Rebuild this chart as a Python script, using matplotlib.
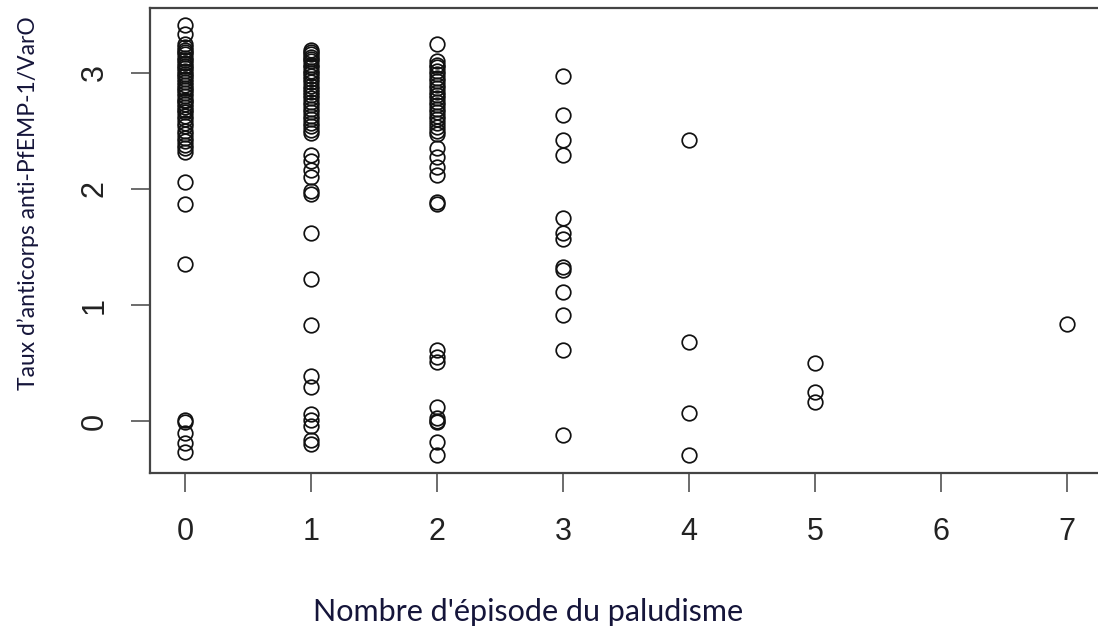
import matplotlib.pyplot as plt

# anticorps rate per number of malaria episodes
episode_0 = [3.41, 3.34, 3.25, 3.22, 3.20, 3.18, 3.16, 3.13, 3.11, 3.09, 3.06, 3.04,
             3.02, 2.99, 2.97, 2.95, 2.92, 2.90, 2.87, 2.85, 2.83, 2.80, 2.77, 2.76,
             2.73, 2.71, 2.68, 2.66, 2.63, 2.60, 2.57, 2.54, 2.50, 2.47, 2.44, 2.41,
             2.38, 2.35, 2.32, 2.06, 1.87, 1.35, 0.01, -0.01, -0.10, -0.19, -0.27]
episode_1 = [3.20, 3.18, 3.16, 3.14, 3.12, 3.10, 3.07, 3.05, 3.02, 3.00, 2.97, 2.95,
             2.92, 2.89, 2.86, 2.84, 2.81, 2.78, 2.75, 2.72, 2.69, 2.66, 2.63, 2.60,
             2.57, 2.54, 2.51, 2.48, 2.29, 2.24, 2.16, 2.10, 1.98, 1.96, 1.62, 1.22,
             0.83, 0.39, 0.29, 0.06, 0.01, -0.04, -0.16, -0.20]
episode_2 = [3.25, 3.10, 3.07, 3.05, 3.02, 2.99, 2.96, 2.93, 2.90, 2.87, 2.84, 2.81,
             2.78, 2.75, 2.72, 2.69, 2.66, 2.63, 2.60, 2.57, 2.53, 2.50, 2.47, 2.35,
             2.28, 2.19, 2.12, 1.89, 1.87, 0.61, 0.55, 0.51, 0.12, 0.03, 0.00, -0.01,
             -0.18, -0.29]
episode_3 = [2.97, 2.64, 2.42, 2.29, 1.75, 1.62, 1.57, 1.33, 1.30, 1.11, 0.91, 0.61, -0.12]
episode_4 = [2.42, 0.68, 0.07, -0.29]
episode_5 = [0.50, 0.25, 0.16]
episode_7 = [0.84]

groups = [(0, episode_0), (1, episode_1), (2, episode_2), (3, episode_3),
          (4, episode_4), (5, episode_5), (7, episode_7)]
x_ticks = [0, 1, 2, 3, 4, 5, 6, 7]
y_ticks = [0, 1, 2, 3]

xs = [k for k, vals in groups for _ in vals]
ys = [v for _, vals in groups for v in vals]

fig = plt.figure(figsize=(10.98, 6.35), dpi=100)
ax = fig.add_axes([150 / 1098, 1 - 473 / 635, 952 / 1098, 465 / 635])

ax.plot(xs, ys, linestyle='none', marker='o', markersize=10.5,
        markerfacecolor='none', markeredgecolor='#111111', markeredgewidth=1.25)

ax.set_xlim(-0.28, 7.28)
ax.set_ylim(-0.448, 3.56)
ax.set_xticks(x_ticks)
ax.set_yticks(y_ticks)

for side in ax.spines.values():
    side.set_color('#444444')
    side.set_linewidth(1.6)

ax.tick_params(direction='out', length=14, width=1.1, color='#444444',
               labelsize=22, labelcolor='#222222')
ax.tick_params(axis='x', pad=18)
ax.tick_params(axis='y', pad=15)
for lab in ax.get_xticklabels() + ax.get_yticklabels():
    lab.set_family('Liberation Sans')
for lab in ax.get_yticklabels():
    lab.set_rotation(90)
    lab.set_va('center')

label_color = '#15153a'
ax.set_xlabel("Nombre d'épisode du paludisme", family='Lato', fontsize=22,
              color=label_color)
ax.xaxis.set_label_coords((528 - 150) / 952, (473 - 612) / 465)
ax.xaxis.label.set_va('center')

ax.set_ylabel("Taux d\u2019anticorps anti-PfEMP-1/VarO", family='Lato', fontsize=16.5,
              color=label_color)
ax.yaxis.set_label_coords((28 - 150) / 952, (473 - 203) / 465)
ax.yaxis.label.set_va('center')

fig.savefig('out.png', dpi=100)
